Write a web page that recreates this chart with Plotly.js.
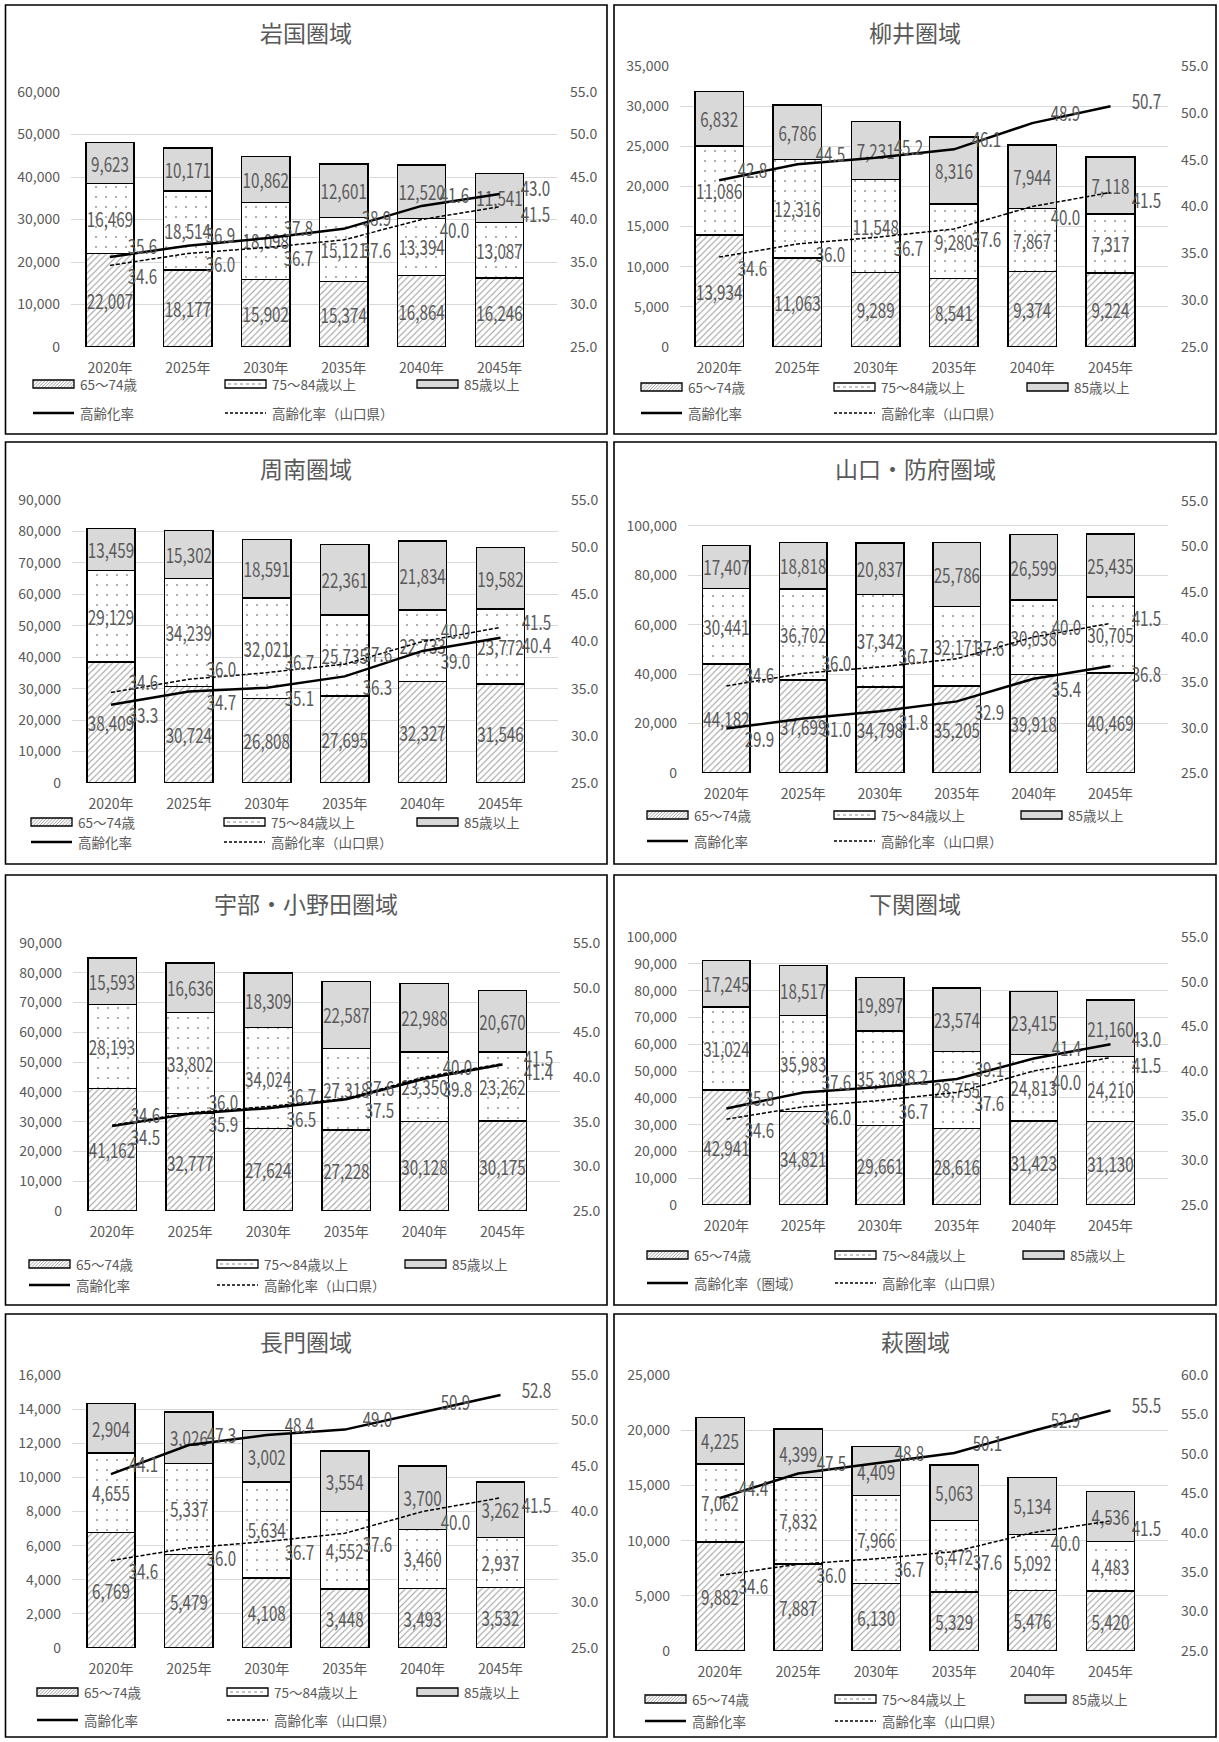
<!DOCTYPE html>
<html><head><meta charset="utf-8">
<script src="https://cdn.plot.ly/plotly-3.0.1.min.js"></script>
<style>html,body{margin:0;padding:0;background:#fff;}</style>
</head><body>
<div id="chart" style="width:1219px;height:1742px;"></div>
<script>
// ---------- DATA ----------
const years = ['2020年','2025年','2030年','2035年','2040年','2045年'];
const regionNames = ['岩国圏域','柳井圏域','周南圏域','山口・防府圏域','宇部・小野田圏域','下関圏域','長門圏域','萩圏域'];
const seriesNames = ['65～74歳','75～84歳以上','85歳以上','高齢化率','高齢化率（山口県）'];
const rateNameShimonoseki = '高齢化率（圏域）';
const prefRate = [34.6,36.0,36.7,37.6,40.0,41.5];

const iwakuni65 = [22007,18177,15902,15374,16864,16246];
const iwakuni75 = [16469,18514,18098,15121,13394,13087];
const iwakuni85 = [9623,10171,10862,12601,12520,11541];
const iwakuniRate = [35.6,36.9,37.8,38.9,41.6,43.0];

const yanai65 = [13934,11063,9289,8541,9374,9224];
const yanai75 = [11086,12316,11548,9280,7867,7317];
const yanai85 = [6832,6786,7231,8316,7944,7118];
const yanaiRate = [42.8,44.5,45.2,46.1,48.9,50.7];

const shunan65 = [38409,30724,26808,27695,32327,31546];
const shunan75 = [29129,34239,32021,25735,22733,23772];
const shunan85 = [13459,15302,18591,22361,21834,19582];
const shunanRate = [33.3,34.7,35.1,36.3,39.0,40.4];

const yamaguchi65 = [44182,37699,34798,35205,39918,40469];
const yamaguchi75 = [30441,36702,37342,32171,30038,30705];
const yamaguchi85 = [17407,18818,20837,25786,26599,25435];
const yamaguchiRate = [29.9,31.0,31.8,32.9,35.4,36.8];

const ube65 = [41162,32777,27624,27228,30128,30175];
const ube75 = [28193,33802,34024,27318,23350,23262];
const ube85 = [15593,16636,18309,22587,22988,20670];
const ubeRate = [34.5,35.9,36.5,37.5,39.8,41.4];

const shimo65 = [42941,34821,29661,28616,31423,31130];
const shimo75 = [31024,35983,35308,28755,24813,24210];
const shimo85 = [17245,18517,19897,23574,23415,21160];
const shimoRate = [35.8,37.6,38.2,39.1,41.4,43.0];

const nagato65 = [6769,5479,4108,3448,3493,3532];
const nagato75 = [4655,5337,5634,4552,3460,2937];
const nagato85 = [2904,3026,3002,3554,3700,3262];
const nagatoRate = [44.1,47.3,48.4,49.0,50.9,52.8];

const hagi65 = [9882,7887,6130,5329,5476,5420];
const hagi75 = [7062,7832,7966,6472,5092,4483];
const hagi85 = [4225,4399,4409,5063,5134,4536];
const hagiRate = [44.4,47.5,48.8,50.1,52.9,55.5];

// ---------- LAYOUT CONFIG (positions in px) ----------
const W = 1219, H = 1742;
const panels = [
  {a:iwakuni65, b:iwakuni75, c:iwakuni85, r:iwakuniRate, frame:[5.5,5,607,434], plot:[71,92,557,347], titleY:32, yMax:60000, yStep:10000, rMax:55, leg:[33,384,413,192]},
  {a:yanai65, b:yanai75, c:yanai85, r:yanaiRate, frame:[614,5,1216,434], plot:[680,66,1168,347], titleY:32, yMax:35000, yStep:5000, rMax:55, leg:[641,387,413,193]},
  {a:shunan65, b:shunan75, c:shunan85, r:shunanRate, frame:[5.5,442,607,864], plot:[72,500,558,783], titleY:468, yMax:90000, yStep:10000, rMax:55, leg:[31,822,842,193]},
  {a:yamaguchi65, b:yamaguchi75, c:yamaguchi85, r:yamaguchiRate, frame:[614,442,1216,864], plot:[688,501,1168,773], titleY:468, yMax:110000, yStep:20000, rMax:55, leg:[647,815,841,187]},
  {a:ube65, b:ube75, c:ube85, r:ubeRate, frame:[5.5,875,607,1305], plot:[73,943,560,1211], titleY:903, yMax:90000, yStep:10000, rMax:55, leg:[29,1264,1285,188]},
  {a:shimo65, b:shimo75, c:shimo85, r:shimoRate, frame:[614,875,1216,1305], plot:[688,937,1168,1205], titleY:903, yMax:100000, yStep:10000, rMax:55, leg:[647,1255,1283,188], rateName:rateNameShimonoseki},
  {a:nagato65, b:nagato75, c:nagato85, r:nagatoRate, frame:[5.5,1314,607,1737], plot:[72,1375,558,1648], titleY:1341, yMax:16000, yStep:2000, rMax:55, leg:[37,1692,1720,190]},
  {a:hagi65, b:hagi75, c:hagi85, r:hagiRate, frame:[614,1314,1216,1737], plot:[681,1375,1168,1651], titleY:1341, yMax:25000, yStep:5000, rMax:60, leg:[645,1699,1721,190]}
];

const px = x => x / W;
const py = y => 1 - y / H;
const GREY = '#595959';
const CJK = '"Noto Sans CJK JP", "Noto Sans", sans-serif';
const LABELFONT = '"Noto Sans CJK JP", sans-serif';
const LABELSIZE = 20;
const SQUISH = 0.76;
const TICKSIZE = 14;

const hatch = {shape:'/', fgcolor:'#9a9a9a', bgcolor:'#ffffff', size:4.5, solidity:0.22};
const dots = {shape:'.', fgcolor:'#9a9a9a', bgcolor:'#ffffff', size:10, solidity:0.035};

const traces = [];
const layout = {
  width: W, height: H,
  margin: {l:0, r:0, t:0, b:0},
  paper_bgcolor: '#ffffff', plot_bgcolor: 'rgba(0,0,0,0)',
  showlegend: false,
  barmode: 'stack', bargap: 0.38,
  font: {family: CJK, color: GREY},
  shapes: [], annotations: []
};

function rectShape(x0,y0,x1,y1,fill,lw){
  return {type:'rect', xref:'paper', yref:'paper', x0:px(x0), x1:px(x1), y0:py(y1), y1:py(y0),
          fillcolor:fill, line:{color:'#000', width:lw}, layer:'above'};
}
function lineShape(x0,y0,x1,y1,lw,dash,color){
  return {type:'line', xref:'paper', yref:'paper', x0:px(x0), x1:px(x1), y0:py(y0), y1:py(y1),
          line:{color:color||'#000', width:lw, dash:dash||'solid'}, layer:'above'};
}
function hatchPath(x0,y0,x1,y1){
  const h = y1 - y0; let d = '';
  for (let t = x0 - h; t < x1; t += 3.2) {
    let sx = t, sy = y1, ex = t + h, ey = y0;
    if (sx < x0) { sy = y1 - (x0 - sx); sx = x0; }
    if (ex > x1) { ey = y0 + (ex - x1); ex = x1; }
    if (ex <= sx) continue;
    d += 'M' + px(sx).toFixed(5) + ',' + py(sy).toFixed(5) + 'L' + px(ex).toFixed(5) + ',' + py(ey).toFixed(5);
  }
  return {type:'path', xref:'paper', yref:'paper', path:d, line:{color:'#8a8a8a', width:0.8}, layer:'above'};
}

panels.forEach((p, k) => {
  const i = k + 1;
  const xid = i === 1 ? 'x' : 'x' + i;
  const yid = i === 1 ? 'y' : 'y' + i;
  const y2id = 'y' + (i + 8);
  const xkey = i === 1 ? 'xaxis' : 'xaxis' + i;
  const ykey = i === 1 ? 'yaxis' : 'yaxis' + i;
  const y2key = 'yaxis' + (i + 8);
  const [X0, Y0, X1, Y1] = p.plot;

  const barCommon = {
    type:'bar', x: years, xaxis:xid, yaxis:yid,
    texttemplate:'%{y:,}', textposition:'inside', insidetextanchor:'middle',
    textangle:0, constraintext:'none', cliponaxis:false,
    textfont:{family:LABELFONT, size:LABELSIZE, color:GREY},
    hoverinfo:'skip'
  };
  traces.push(Object.assign({}, barCommon, {name:seriesNames[0], y:p.a,
    marker:{color:'#ffffff', pattern:hatch, line:{color:'#000', width:1.5}}}));
  traces.push(Object.assign({}, barCommon, {name:seriesNames[1], y:p.b,
    marker:{color:'#ffffff', pattern:dots, line:{color:'#000', width:1.5}}}));
  traces.push(Object.assign({}, barCommon, {name:seriesNames[2], y:p.c,
    marker:{color:'#d9d9d9', line:{color:'#000', width:1.5}}}));
  traces.push({type:'scatter', mode:'lines', name:p.rateName || seriesNames[3], x:years, y:p.r,
    xaxis:xid, yaxis:y2id, line:{color:'#000', width:2.5}, hoverinfo:'skip', cliponaxis:false});
  traces.push({type:'scatter', mode:'lines', name:seriesNames[4], x:years, y:prefRate,
    xaxis:xid, yaxis:y2id, line:{color:'#000', width:1.5, dash:'4px,2px'}, hoverinfo:'skip', cliponaxis:false});

  layout[xkey] = {
    domain:[px(X0), px(X1)], anchor:yid, type:'category',
    showgrid:false, zeroline:false, showline:false, ticks:'',
    tickfont:{family:CJK, size:TICKSIZE, color:GREY}, ticklabelstandoff:11, fixedrange:true
  };
  layout[ykey] = {
    domain:[py(Y1), py(Y0)], anchor:xid, range:[0, p.yMax], dtick:p.yStep, tick0:0,
    tickformat:',d', showgrid:true, gridcolor:'#d9d9d9', gridwidth:1,
    zeroline:false, showline:false, ticks:'',
    tickfont:{family:CJK, size:TICKSIZE, color:GREY}, ticklabelstandoff:10, fixedrange:true
  };
  layout[y2key] = {
    overlaying:yid, anchor:xid, side:'right', range:[25, p.rMax], dtick:5, tick0:25,
    tickformat:'.1f', showgrid:false, zeroline:false, showline:false, ticks:'',
    tickfont:{family:CJK, size:TICKSIZE, color:GREY}, ticklabelstandoff:12, fixedrange:true
  };

  // line value labels
  const n = years.length;
  for (let j = 0; j < n; j++) {
    const last = j === n - 1;
    const rUp = p.r[j] >= prefRate[j];
    [[p.r[j], rUp], [prefRate[j], !rUp]].forEach(([v, up]) => {
      layout.annotations.push({
        x: years[j], y: v, xref: xid, yref: y2id, text: v.toFixed(1), showarrow:false,
        xanchor:'center', yanchor:'middle', xshift: last ? 36 : 33,
        yshift: up ? (last ? 6 : 11) : (last ? -7 : -10),
        font:{family:LABELFONT, size:LABELSIZE, color:GREY}
      });
    });
  }

  // frame and title
  const [F0, G0, F1, G1] = p.frame;
  layout.shapes.push({type:'rect', xref:'paper', yref:'paper', x0:px(F0), x1:px(F1), y0:py(G1), y1:py(G0),
    line:{color:'#000', width:1.6}, fillcolor:'rgba(0,0,0,0)', layer:'below'});
  layout.annotations.push({xref:'paper', yref:'paper', x:px((F0+F1)/2), y:py(p.titleY), text:regionNames[k],
    showarrow:false, xanchor:'center', yanchor:'middle', font:{family:CJK, size:23, color:GREY}});

  // manual legend
  const [LX, R1, R2, STEP] = p.leg;
  const SW = 41, SH = 8;
  const labels = [seriesNames[0], seriesNames[1], seriesNames[2], p.rateName || seriesNames[3], seriesNames[4]];
  for (let c = 0; c < 3; c++) {
    const sx = LX + c * STEP;
    if (c === 0) layout.shapes.push(hatchPath(sx, R1 - SH/2, sx + SW, R1 + SH/2));
    if (c === 1) layout.shapes.push(lineShape(sx + 3, R1, sx + SW - 3, R1, 1, 'dot', '#8a8a8a'));
    layout.shapes.push(rectShape(sx, R1 - SH/2, sx + SW, R1 + SH/2, c === 2 ? '#d9d9d9' : 'rgba(0,0,0,0)', 1.3));
    layout.annotations.push({xref:'paper', yref:'paper', x:px(sx + SW + 4), y:py(R1), text:labels[c],
      showarrow:false, xanchor:'left', yanchor:'middle', font:{family:CJK, size:13.5, color:GREY}});
  }
  for (let c = 0; c < 2; c++) {
    const sx = LX + c * STEP;
    layout.shapes.push(lineShape(sx, R2, sx + SW, R2, c === 0 ? 2.5 : 1.5, c === 0 ? 'solid' : '3px,2px'));
    layout.annotations.push({xref:'paper', yref:'paper', x:px(sx + SW + 4), y:py(R2), text:labels[3 + c],
      showarrow:false, xanchor:'left', yanchor:'middle', font:{family:CJK, size:13.5, color:GREY}});
  }
});

// condense the value labels horizontally (tall narrow digits as in the reference)
function squish(el, s){
  const bb = el.getBBox();
  const cx = bb.x + bb.width / 2, cy = bb.y + bb.height / 2;
  const t = el.getAttribute('transform') || '';
  el.setAttribute('transform', t + ' translate(' + cx + ',' + cy + ') scale(' + s + ',1) translate(' + (-cx) + ',' + (-cy) + ')');
}
Plotly.newPlot('chart', traces, layout, {staticPlot:true, displayModeBar:false}).then(gd => {
  gd.querySelectorAll('text.bartext').forEach(el => squish(el, SQUISH));
  gd.querySelectorAll('text.annotation-text').forEach(el => {
    if (/^\d+\.\d$/.test(el.textContent)) squish(el, SQUISH);
  });
});
</script>
</body></html>
